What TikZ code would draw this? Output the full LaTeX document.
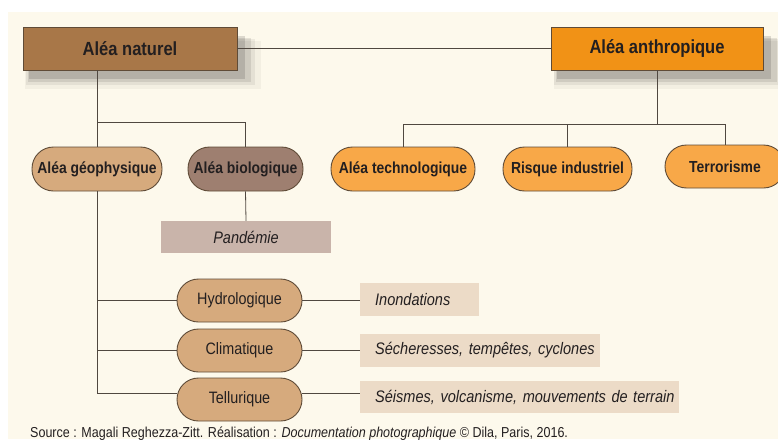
\documentclass[tikz,border=0pt]{standalone}
\usepackage{fontspec}
\setmainfont{Liberation Sans}[FakeStretch=0.87]
\usetikzlibrary{positioning,shadows}

\definecolor{fond}{RGB}{253,249,236}
\definecolor{brunnat}{RGB}{168,119,72}
\definecolor{oranthr}{RGB}{241,146,22}
\definecolor{beigegeo}{RGB}{214,170,125}
\definecolor{brunbio}{RGB}{158,127,112}
\definecolor{oranpill}{RGB}{248,168,72}
\definecolor{roseband}{RGB}{201,180,170}
\definecolor{beigeband}{RGB}{236,219,199}
\definecolor{trait}{RGB}{80,72,64}
\definecolor{bord}{RGB}{95,75,55}
\definecolor{encre}{RGB}{35,31,32}

\tikzset{
  softshadow/.style={
    general shadow={fill=black, opacity=.04, shadow xshift=12pt, shadow yshift=-15pt, shadow scale=1.10},
    general shadow={fill=black, opacity=.06, shadow xshift=10pt, shadow yshift=-13pt, shadow scale=1.07},
    general shadow={fill=black, opacity=.09, shadow xshift=9pt, shadow yshift=-11pt, shadow scale=1.04},
    general shadow={fill=black, opacity=.13, shadow xshift=7pt, shadow yshift=-9pt, shadow scale=1.01}},
  header/.style={draw=bord, line width=0.9pt, minimum height=43pt, inner sep=0pt,
    font=\fontsize{19}{22}\selectfont\bfseries, text=encre, softshadow},
  pill/.style={draw=bord, line width=0.9pt, rounded corners=21.5pt, minimum height=44pt,
    inner sep=0pt, font=\fontsize{16}{19}\selectfont\bfseries, text=encre},
  subpill/.style={pill, fill=beigegeo, minimum width=125pt, minimum height=43pt,
    font=\fontsize{16.5}{19}\selectfont},
  band/.style={minimum height=33pt, inner sep=0pt, text=encre,
    font=\fontsize{16.7}{19}\selectfont\itshape},
  bandl/.style={band, fill=beigeband, anchor=west, text width=#1, align=left,
    execute at begin node={\hspace*{15pt}}},
  link/.style={draw=trait, line width=0.8pt}
}

\begin{document}
\begin{tikzpicture}[x=1pt,y=-1pt]
\useasboundingbox (0,0) rectangle (778,439);
\clip (0,0) rectangle (778,439);
\fill[white] (0,0) rectangle (778,439);
\fill[fond] (8,12) rectangle (778,439);

% top level
\node[header, fill=brunnat, minimum width=214pt] (nat) at (130,48.5) {Aléa naturel};
\node[header, fill=oranthr, minimum width=212pt] (anth) at (657,48.5) {Aléa anthropique};

% second level
\node[pill, fill=beigegeo, minimum width=130pt] (geo) at (97,169) {Aléa géophysique};
\node[pill, fill=brunbio, minimum width=115pt] (bio) at (245.5,169) {Aléa biologique};
\node[pill, fill=oranpill, minimum width=144pt] (techno) at (403,169) {Aléa technologique};
\node[pill, fill=oranpill, minimum width=129pt] (indus) at (567.5,169) {Risque industriel};
\node[pill, fill=oranpill, minimum width=120pt, minimum height=43pt] (terro) at (725,166.5) {Terrorisme};

\node[band, fill=roseband, minimum width=170pt, minimum height=32pt] (pand) at (246,237) {Pandémie};

% geophysical branches
\node[subpill] (hydro) at (239.5,300.5) {Hydrologique};
\node[subpill] (clim) at (239.5,350.5) {Climatique};
\node[subpill] (tell) at (239.5,399.5) {Tellurique};

\node[bandl=119pt] (inond) at (360,299.5) {Inondations};
\node[bandl=240pt] (sech) at (360,350.5) {Sécheresses, tempêtes, cyclones};
\node[bandl=319pt, minimum height=32pt] (seis) at (360,397) {Séismes, volcanisme, mouvements de terrain};

% connectors
\draw[link] (nat.east) -- (anth.west);
\path (geo.north) ++(0,-24) coordinate (natfork);
\draw[link] (natfork |- nat.south) -- (geo.north);
\draw[link] (natfork) -| (bio.north);
\draw[link] (bio.south) -- (pand.north);
\draw[link] (anth.south) -- ++(0,54) coordinate (anthfork);
\draw[link] (techno.north) |- (anthfork) -| (terro.north);
\draw[link] (indus.north) -- (indus.north |- anthfork);
\draw[link] (geo.south) |- ([yshift=6pt]tell.west);
\draw[link] (geo.south |- hydro.west) -- (hydro.west);
\draw[link] (geo.south |- clim.west) -- (clim.west);
\draw[link] (hydro.east) -- (hydro.east -| inond.west);
\draw[link] (clim.east) -- (clim.east -| sech.west);
\draw[link] ([yshift=6pt]tell.east) -- ([yshift=6pt]tell.east -| seis.west);

\node[anchor=base west, inner sep=0pt, text=encre, font=\fontsize{14.4}{16}\selectfont] (src) at (30,437.5)
  {Source : Magali Reghezza-Zitt. Réalisation : \textit{Documentation photographique} © Dila, Paris, 2016.};
\end{tikzpicture}
\end{document}
